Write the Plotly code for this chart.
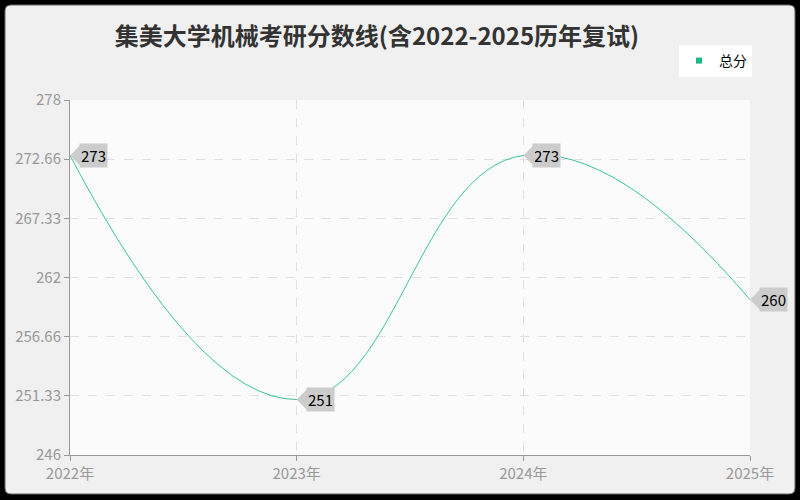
import plotly.graph_objects as go

years = [2022, 2023, 2024, 2025]
year_labels = ["2022年", "2023年", "2024年", "2025年"]
scores = [273, 251, 273, 260]
y_ticks = [246, 251.33, 256.66, 262, 267.33, 272.66, 278]
y_tick_labels = ["246", "251.33", "256.66", "262", "267.33", "272.66", "278"]
series_name = "总分"
title_text = "集美大学机械考研分数线(含2022-2025历年复试)"

W, H = 800, 500
ML, MR, MT, MB = 70, 50, 100, 45
PW, PH = W - ML - MR, H - MT - MB

def px_x(p):
    return (p - ML) / PW

def px_y(q):
    return (H - MB - q) / PH

def rounded_rect(x0, y0, x1, y1, r):
    rx, ry = r / PW, r / PH
    a, b, c, d = px_x(x0), px_y(y0), px_x(x1), px_y(y1)
    return (f"M {a+rx},{b} L {c-rx},{b} Q {c},{b} {c},{b-ry} "
            f"L {c},{d+ry} Q {c},{d} {c-rx},{d} L {a+rx},{d} "
            f"Q {a},{d} {a},{d+ry} L {a},{b-ry} Q {a},{b} {a+rx},{b} Z")

LINE = "#3cc49a"
font_family = "Noto Sans CJK SC, Noto Sans, sans-serif"

fig = go.Figure()
fig.add_trace(go.Scatter(
    x=years, y=scores, mode="lines",
    line=dict(color=LINE, width=1, shape="spline", smoothing=1.3),
    showlegend=False, cliponaxis=False, hoverinfo="skip",
))
fig.add_trace(go.Scatter(
    x=[None], y=[None], mode="markers", name=series_name,
    marker=dict(symbol="square", size=6, color="#1db784"),
))

for xv, yv in zip(years, scores):
    fig.add_annotation(
        x=xv, y=yv, text=str(yv), showarrow=True,
        ax=9, ay=0, xanchor="left", yanchor="middle",
        arrowhead=1, arrowsize=1.9, arrowwidth=2, arrowcolor="#cccccc",
        standoff=0, startstandoff=0,
        bgcolor="#cccccc", borderpad=1,
        font=dict(color="#000000", size=15, family=font_family),
    )

shapes = [
    dict(type="path", xref="paper", yref="paper", layer="below",
         path=rounded_rect(5, 5, 795, 494, 6),
         fillcolor="#f0f0f0", line=dict(color="#666666", width=1)),
    dict(type="rect", xref="paper", yref="paper", layer="below",
         x0=0, x1=1, y0=0, y1=1, fillcolor="#fbfbfb", line=dict(width=0)),
]
fig.update_layout(shapes=shapes)

fig.update_layout(
    width=W, height=H,
    margin=dict(l=ML, r=MR, t=MT, b=MB),
    paper_bgcolor="#000000",
    plot_bgcolor="#fbfbfb",
    font=dict(family=font_family, color="#999999", size=15),
    title=dict(text=title_text, x=377 / W, xanchor="center", y=1 - 37 / H, yanchor="middle",
               font=dict(size=24, color="#333333", family=font_family, weight="bold")),
    legend=dict(x=px_x(752), y=px_y(45), xanchor="right", yanchor="top",
                bgcolor="#ffffff", borderwidth=0,
                font=dict(size=14, color="#000000", family=font_family),
                itemwidth=30, tracegroupgap=0),
    xaxis=dict(range=[2022, 2025], tickvals=years, ticktext=year_labels,
               showgrid=True, gridcolor="#e0e0e0", griddash="dash", gridwidth=1,
               showline=True, linecolor="#999999", linewidth=1,
               ticks="outside", ticklen=5, tickcolor="#999999",
               zeroline=False, fixedrange=True),
    yaxis=dict(range=[246, 278], tickvals=y_ticks, ticktext=y_tick_labels,
               showgrid=True, gridcolor="#e0e0e0", griddash="dash", gridwidth=1,
               showline=True, linecolor="#999999", linewidth=1,
               ticks="outside", ticklen=5, tickcolor="#999999",
               zeroline=False, fixedrange=True),
)

fig.write_html("out.html", config={"displayModeBar": False},
               post_script="document.body.style.margin='0';document.body.style.overflow='hidden';")
